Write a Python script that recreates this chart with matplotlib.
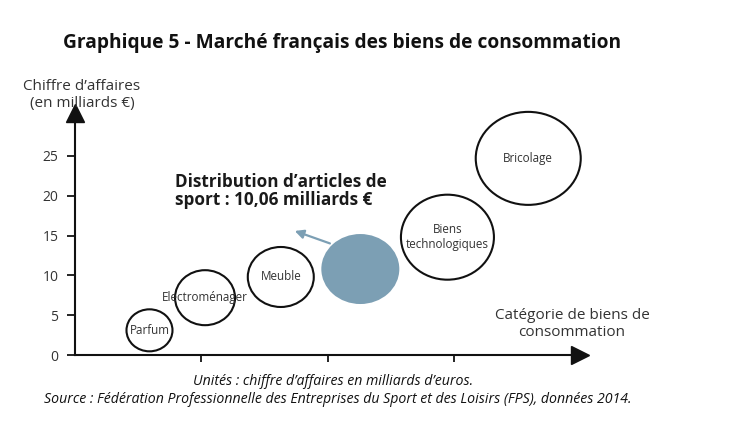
#!/usr/bin/env python3

import matplotlib
matplotlib.use('Agg')
import matplotlib.pyplot as plt
from matplotlib.patches import Ellipse

plt.rcParams['font.family'] = ['Open Sans', 'DejaVu Sans']

#-----------
# DATA
#-----------
categories = ['Parfum', 'Electroménager', 'Meuble', 'Sport', 'Biens\ntechnologiques', 'Bricolage']
pos_x = [0.59, 1.03, 1.63, 2.26, 2.95, 3.59]
chiffre_affaires = [3.1, 7.2, 9.8, 10.8, 14.8, 24.7]
# bubble diameters (pixels, width / height)
diam_w = [46, 60, 66, 78, 93, 105]
diam_h = [42, 55, 60, 70, 85, 93]
y_ticks = [0, 5, 10, 15, 20, 25]
x_ticks = [1, 2, 3]

SPORT_COLOR = '#7c9fb4'
TEXT_COLOR = '#333333'

#-----------
# PLOT
#-----------
fig = plt.figure(figsize=(7.41, 4.48), dpi=100)
ax = fig.add_axes([75 / 741, 1 - 355 / 448, 505 / 741, 242 / 448])
ax.set_xlim(0, 4)
ax.set_ylim(0, 30.4)

# pixels per data unit
px_x = 505 / 4
px_y = 242 / 30.4

for name, x, y, w, h in zip(categories, pos_x, chiffre_affaires, diam_w, diam_h):
  if name == 'Sport':
    e = Ellipse((x, y), w / px_x, h / px_y, facecolor=SPORT_COLOR, edgecolor='none', zorder=2)
  else:
    e = Ellipse((x, y), w / px_x, h / px_y, facecolor='white', edgecolor='#111111', lw=1.5, zorder=2)
    ax.text(x, y, name, ha='center', va='center', fontsize=8.4, color=TEXT_COLOR,
            linespacing=1.15, zorder=3)
  e.set_clip_on(False)
  ax.add_patch(e)

# annotation for the sport bubble
i_sport = categories.index('Sport')
xs, ys = pos_x[i_sport], chiffre_affaires[i_sport]
ax.annotate('', xy=(xs - 0.54, ys + 4.9), xytext=(xs - 0.22, ys + 3.1),
            arrowprops=dict(arrowstyle='-|>', color=SPORT_COLOR, lw=1.6, mutation_scale=13),
            zorder=3)
ax.text(0.79, 20.6, "Distribution d\u2019articles de\nsport : 10,06 milliards \u20ac",
        ha='left', va='center', fontsize=12.3, fontweight='bold', color='#1a1a1a', linespacing=1.0)

# axes
for s in ['top', 'right']:
  ax.spines[s].set_visible(False)
for s in ['left', 'bottom']:
  ax.spines[s].set_linewidth(1.5)
  ax.spines[s].set_color('#111111')
ax.set_yticks(y_ticks)
ax.set_xticks(x_ticks)
ax.set_xticklabels([])
ax.tick_params(axis='y', direction='out', length=6, width=1.2, labelsize=10,
               labelcolor=TEXT_COLOR, pad=6)
ax.tick_params(axis='x', direction='out', length=5, width=1.2)
ax.plot([0], [30.4], marker='^', markersize=13, color='#111111', clip_on=False, zorder=5)
ax.plot([4], [0], marker='>', markersize=13, color='#111111', clip_on=False, zorder=5)

# texts
fig.text(63 / 741, 1 - 43 / 448, 'Graphique 5 - Marché français des biens de consommation',
         ha='left', va='center', fontsize=13.8, fontweight='bold', color='#111111')
fig.text(82 / 741, 1 - 95 / 448, 'Chiffre d\u2019affaires\n(en milliards \u20ac)',
         ha='center', va='center', fontsize=11, color=TEXT_COLOR, linespacing=1.1)
fig.text(572 / 741, 1 - 324 / 448, 'Catégorie de biens de\nconsommation',
         ha='center', va='center', fontsize=11, color=TEXT_COLOR, linespacing=1.15)
fig.text(333 / 741, 1 - 381 / 448, 'Unités : chiffre d\u2019affaires en milliards d\u2019euros.',
         ha='center', va='center', fontsize=10.2, style='italic', color='#111111')
fig.text(338 / 741, 1 - 399 / 448,
         'Source : Fédération Professionnelle des Entreprises du Sport et des Loisirs (FPS), données 2014.',
         ha='center', va='center', fontsize=10.2, style='italic', color='#111111')

fig.savefig('out.png', dpi=100)
